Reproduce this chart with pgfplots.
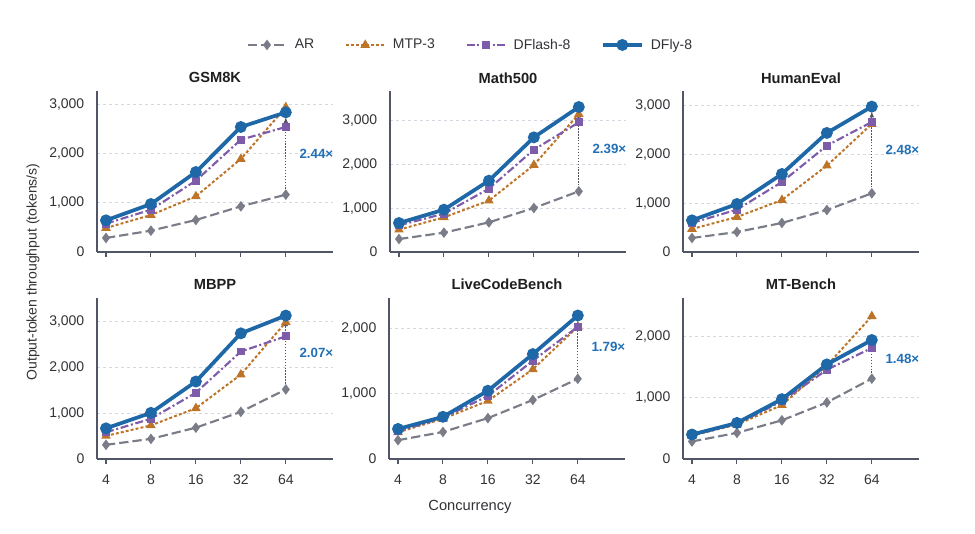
\documentclass[border=0pt]{standalone}
\usepackage{fontspec}
\setmainfont{Liberation Sans}
\usepackage{pgfplots}
\pgfplotsset{compat=1.18}
\usepackage{pgfplotstable}
\usetikzlibrary{arrows.meta}

\definecolor{arcol}{RGB}{122,124,136}
\definecolor{mtpcol}{RGB}{190,116,40}
\definecolor{dflcol}{RGB}{125,92,170}
\definecolor{dflycol}{RGB}{31,104,168}
\definecolor{lblcol}{RGB}{33,112,182}
\definecolor{axiscol}{RGB}{80,86,102}
\definecolor{gridcol}{RGB}{212,216,224}
\definecolor{textcol}{RGB}{50,50,55}
\definecolor{annotcol}{RGB}{85,85,95}

% x: 0=4, 1=8, 2=16, 3=32, 4=64
\pgfplotstableread{
x ar mtp dfl dfly
0 285 487 575 642
1 433 750 858 973
2 649 1129 1447 1622
3 926 1886 2278 2535
4 1163 2934 2535 2832
}\gsm
\pgfplotstableread{
x ar mtp dfl dfly
0 295 508 606 659
1 439 788 871 962
2 674 1167 1439 1621
3 1000 1977 2326 2606
4 1379 3136 2947 3296
}\mathf
\pgfplotstableread{
x ar mtp dfl dfly
0 287 472 595 649
1 410 718 868 984
2 595 1066 1435 1599
3 861 1770 2180 2440
4 1203 2624 2665 2980
}\human
\pgfplotstableread{
x ar mtp dfl dfly
0 310 505 584 670
1 440 735 880 1009
2 685 1110 1449 1694
3 1031 1846 2350 2747
4 1521 2992 2682 3136
}\mbpp
\pgfplotstableread{
x ar mtp dfl dfly
0 288 409 424 460
1 414 616 631 646
2 626 889 965 1045
3 904 1374 1505 1606
4 1228 2025 2025 2197
}\lcb
\pgfplotstableread{
x ar mtp dfl dfly
0 286 383 388 399
1 426 561 571 588
2 631 879 943 976
3 922 1525 1455 1542
4 1310 2328 1811 1940
}\mtb

\tikzset{spd/.style={font=\bfseries\fontsize{10}{12}\selectfont, text=lblcol, anchor=west}}

\pgfplotsset{
  panel/.style={
    scale only axis, width=177pt, height=120.75pt, anchor=south west,
    xmin=-0.2, xmax=5.05, ymin=0,
    xtick={0,1,2,3,4},
    axis x line*=bottom, axis y line*=left,
    axis line style={draw=axiscol, line width=1pt, -},
    tick align=outside, major tick length=3.5pt,
    xtick style={draw=axiscol, line width=0.8pt},
    ytick style={draw=none},
    ymajorgrids, grid style={dash pattern=on 2.5pt off 2pt, draw=gridcol, line width=0.6pt},
    tick label style={font=\fontsize{10.5}{12}\selectfont, text=textcol},
    yticklabel style={xshift=-2.5pt},
    xticklabel style={yshift=-5pt},
    scaled y ticks=false,
    /pgf/number format/assume math mode=true,
    /pgf/number format/1000 sep={,},
    title style={at={(0.5,1)}, anchor=base, yshift=0pt, font=\bfseries\fontsize{11}{13}\selectfont, text=black!88},
    clip=false,
    legend image code/.code={\draw[mark repeat=2, mark phase=2, ##1] plot coordinates {(0pt,0pt) (14.5pt,0pt) (29pt,0pt)};},
  },
  toprow/.style={xticklabels={}},
  botrow/.style={xticklabels={4,8,16,32,64}},
  ar/.style={color=arcol, line width=1.6pt, dash pattern=on 7pt off 3pt, mark=diamond*, mark size=2.7pt, mark options={solid}},
  mtp/.style={color=mtpcol, line width=1.5pt, dash pattern=on 2.2pt off 1.6pt, mark=triangle*, mark size=2.7pt, mark options={solid}},
  dfl/.style={color=dflcol, line width=1.6pt, dash pattern=on 6pt off 2pt on 1.5pt off 2pt, mark=square*, mark size=2.1pt, mark options={solid}},
  dfly/.style={color=dflycol, line width=2.8pt, mark=*, mark size=3pt, mark options={solid}},
  annot/.style={draw=annotcol, line width=0.8pt, dash pattern=on 1pt off 1.2pt, -{Latex[length=4.5pt,width=3.5pt]}, shorten >=3.5pt, mark=none, forget plot},
}

\begin{document}
\begin{tikzpicture}
\path[use as bounding box] (0,0) rectangle (731.25pt,399.75pt);

% ---------- GSM8K
\begin{axis}[panel, toprow, at={(72.75pt,210.75pt)}, ymax=3265, ytick={0,1000,2000,3000}, title={GSM8K}]
\addplot[ar] table[x=x,y=ar] {\gsm};
\addplot[annot] coordinates {(4,1163) (4,2832)};
\addplot[mtp] table[x=x,y=mtp] {\gsm};
\addplot[dfl] table[x=x,y=dfl] {\gsm};
\addplot[dfly] table[x=x,y=dfly] {\gsm};
\node[spd] at (axis cs:4.2,1997) {2.44×};
\end{axis}

% ---------- Math500
\begin{axis}[panel, toprow, at={(292.5pt,210.75pt)}, ymax=3660, ytick={0,1000,2000,3000}, title={Math500},
  legend style={draw=none, fill=none, at={(0.342,1.286)}, anchor=center,
    font=\fontsize{10.5}{12}\selectfont, text=textcol,
    /tikz/every odd column/.append style={column sep=3.5pt},
    /tikz/every even column/.append style={column sep=21pt}},
  legend columns=4]
\addplot[ar] table[x=x,y=ar] {\mathf};
\addplot[annot] coordinates {(4,1379) (4,3296)};
\addplot[mtp] table[x=x,y=mtp] {\mathf};
\addplot[dfl] table[x=x,y=dfl] {\mathf};
\addplot[dfly] table[x=x,y=dfly] {\mathf};
\node[spd] at (axis cs:4.2,2337) {2.39×};
\legend{AR, MTP-3, DFlash-8, DFly-8}
\end{axis}

% ---------- HumanEval
\begin{axis}[panel, toprow, at={(512.25pt,210.75pt)}, ymax=3300, ytick={0,1000,2000,3000}, title={HumanEval}]
\addplot[ar] table[x=x,y=ar] {\human};
\addplot[annot] coordinates {(4,1203) (4,2980)};
\addplot[mtp] table[x=x,y=mtp] {\human};
\addplot[dfl] table[x=x,y=dfl] {\human};
\addplot[dfly] table[x=x,y=dfly] {\human};
\node[spd] at (axis cs:4.2,2091) {2.48×};
\end{axis}

% ---------- MBPP
\begin{axis}[panel, botrow, at={(72.75pt,55.5pt)}, ymax=3520, ytick={0,1000,2000,3000}, title={MBPP}]
\addplot[ar] table[x=x,y=ar] {\mbpp};
\addplot[annot] coordinates {(4,1521) (4,3136)};
\addplot[mtp] table[x=x,y=mtp] {\mbpp};
\addplot[dfl] table[x=x,y=dfl] {\mbpp};
\addplot[dfly] table[x=x,y=dfly] {\mbpp};
\node[spd] at (axis cs:4.2,2328) {2.07×};
\end{axis}

% ---------- LiveCodeBench
\begin{axis}[panel, botrow, at={(291.75pt,55.5pt)}, ymax=2465, ytick={0,1000,2000}, title={LiveCodeBench}]
\addplot[ar] table[x=x,y=ar] {\lcb};
\addplot[annot] coordinates {(4,1228) (4,2197)};
\addplot[mtp] table[x=x,y=mtp] {\lcb};
\addplot[dfl] table[x=x,y=dfl] {\lcb};
\addplot[dfly] table[x=x,y=dfly] {\lcb};
\node[spd] at (axis cs:4.2,1712) {1.79×};
\end{axis}

% ---------- MT-Bench
\begin{axis}[panel, botrow, at={(512.25pt,55.5pt)}, ymax=2625, ytick={0,1000,2000}, title={MT-Bench}]
\addplot[ar] table[x=x,y=ar] {\mtb};
\addplot[annot] coordinates {(4,1310) (4,1940)};
\addplot[mtp] table[x=x,y=mtp] {\mtb};
\addplot[dfl] table[x=x,y=dfl] {\mtb};
\addplot[dfly] table[x=x,y=dfly] {\mtb};
\node[spd] at (axis cs:4.2,1625) {1.48×};
\end{axis}

\node[rotate=90, font=\fontsize{10.5}{12}\selectfont, text=textcol] at (24.75pt,195.75pt) {Output-token throughput (tokens/s)};
\node[font=\fontsize{11}{13}\selectfont, text=textcol] at (352.5pt,19.5pt) {Concurrency};
\end{tikzpicture}
\end{document}
